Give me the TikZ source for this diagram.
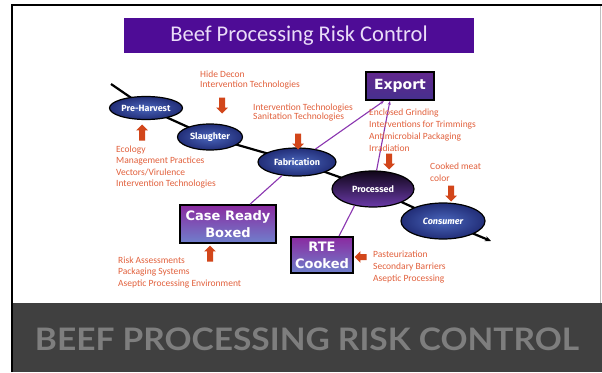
\documentclass[tikz,border=0pt]{standalone}
\usepackage{fontspec}
\setmainfont{Carlito}
\newfontfamily\ovalfont{Fira Sans}
\newfontfamily\boxfont{DejaVu Sans}
\newfontfamily\bandfont{Lato}
\usetikzlibrary{shapes.geometric}
\usetikzlibrary{shapes.arrows}
\usetikzlibrary{arrows.meta}
\usetikzlibrary{backgrounds}

\definecolor{titleviolet}{HTML}{4E0C96}
\definecolor{titletext}{HTML}{EADCF8}
\definecolor{navyin}{HTML}{4A66BC}
\definecolor{navyout}{HTML}{222E78}
\definecolor{proctop}{HTML}{100618}
\definecolor{procbot}{HTML}{6A3AA8}
\definecolor{boxtop}{HTML}{8A2AA0}
\definecolor{boxbot}{HTML}{6F80CC}
\definecolor{exptop}{HTML}{62288E}
\definecolor{expbot}{HTML}{46308E}
\definecolor{riskred}{HTML}{E2603C}
\definecolor{arrowred}{HTML}{D2461A}
\definecolor{linkpurple}{HTML}{8A35B0}
\definecolor{bandgray}{HTML}{404040}
\definecolor{bandtext}{HTML}{7E7E7E}

\tikzset{
  stage/.style={ellipse, draw=black, line width=1.2pt, inner sep=0pt, text=white,
    font=\ovalfont\bfseries\fontsize{9}{10}\selectfont, inner color=navyin, outer color=navyout},
  outlet/.style={rectangle, draw=black, line width=1.8pt, inner sep=0pt, text=white, align=center,
    font=\boxfont\bfseries\fontsize{13}{17}\selectfont, top color=boxtop, bottom color=boxbot},
  risktext/.style={anchor=north west, align=left, inner sep=0pt, text=riskred,
    font=\fontsize{9.5}{11.5}\selectfont},
  riskarrow/.style={single arrow, fill=arrowred, inner sep=2.8pt, minimum width=0pt,
    minimum height=16pt, single arrow head extend=2.8pt},
  link/.style={draw=linkpurple, line width=1.1pt},
  chain/.style={draw=black, line width=2.2pt}
}

\begin{document}
\begin{tikzpicture}[x=1pt, y=-1pt]
        	\useasboundingbox (0,0) rectangle (602,372);
        	\begin{scope}[on background layer]
        	\fill[white] (0,0) rectangle (602,372);
        	\end{scope}
        	\draw[black, line width=2pt] (12,372) -- (12,5) -- (602,5);
        	\draw[black!25, line width=0.8pt] (600.5,6) -- (600.5,303);
        	\fill[bandgray] (13,303) rectangle (602,372);
        	\node[text=bandtext, xscale=1.08, font=\bandfont\bfseries\fontsize{31}{34}\selectfont] (Z) at (307,339) {BEEF PROCESSING RISK CONTROL};
        	\node[fill=titleviolet, minimum width=350pt, minimum height=35pt, text=titletext, font=\fontsize{22.5}{26}\selectfont] (A) at (299,35.5) {Beef Processing Risk Control};
        	\node[stage, minimum width=73pt, minimum height=23pt] (B) at (146,108) {Pre-Harvest};
        	\node[stage, minimum width=65pt, minimum height=26pt] (C) at (210,137) {Slaughter};
        	\node[stage, minimum width=78pt, minimum height=28pt] (D) at (297,162) {Fabrication};
        	\node[stage, minimum width=82pt, minimum height=36pt, top color=proctop, bottom color=procbot] (E) at (373,189) {Processed};
        	\node[stage, minimum width=84pt, minimum height=36pt] (F) at (443,221) {\itshape Consumer};
        	\node[outlet, minimum width=68pt, minimum height=28pt, top color=exptop, bottom color=expbot, font=\boxfont\bfseries\fontsize{14}{17}\selectfont] (G) at (400,86) {Export};
        	\node[outlet, minimum width=96pt, minimum height=38pt] (H) at (228,224) {Case Ready\\Boxed};
        	\node[outlet, minimum width=62pt, minimum height=36pt] (I) at (322,255) {RTE\\Cooked};
        	\coordinate (S) at (111,84);
        	\coordinate (T) at (491,241);
        	\begin{scope}[on background layer]
        	\draw[chain] (S) -- (B.center) -- (C.center) -- (D.center) -- (E.center) -- (F.center);
        	\draw[chain, -{Stealth[length=6pt, width=5pt]}] (F.center) -- (T);
        	\end{scope}
        	\draw[link] (H) -- (D);
        	\draw[link, -{Stealth[length=4pt, width=3pt]}] (D) -- (G.-137);
        	\draw[link, -{Stealth[length=4pt, width=3pt]}] (E) -- (G.-124);
        	\draw[link] (E.-138) -- (I.48);
        	\node[risktext, font=\fontsize{9.5}{10}\selectfont] (K) at (200,71) {Hide Decon\\Intervention Technologies};
        	\node[risktext, font=\fontsize{9.5}{9.5}\selectfont] (L) at (253,103.5) {Intervention Technologies\\Sanitation Technologies};
        	\node[risktext] (M) at (116,145.5) {Ecology\\Management Practices\\Vectors/Virulence\\Intervention Technologies};
        	\node[risktext, font=\fontsize{9.5}{12}\selectfont] (N) at (369,108.5) {Enclosed Grinding\\Interventions for Trimmings\\Antimicrobial Packaging\\Irradiation};
        	\node[risktext, font=\fontsize{9.5}{12}\selectfont] (O) at (430,162.5) {Cooked meat\\color};
        	\node[risktext] (P) at (118,256.5) {Risk Assessments\\Packaging Systems\\Aseptic Processing Environment};
        	\node[risktext, font=\fontsize{9.5}{12}\selectfont] (Q) at (373,250.5) {Pasteurization\\Secondary Barriers\\Aseptic Processing};
        	\node[riskarrow, rotate=90] (R1) at (142,134) {};
        	\node[riskarrow, rotate=-90] (R2) at (222,104) {};
        	\node[riskarrow, rotate=-90] (R3) at (298,140) {};
        	\node[riskarrow, rotate=-90] (R4) at (389,160) {};
        	\node[riskarrow, rotate=-90] (R5) at (451,192) {};
        	\node[riskarrow, rotate=90] (R6) at (210,255) {};
        	\node[riskarrow, rotate=180, minimum height=12pt] (R7) at (362,257) {};
\end{tikzpicture}
\end{document}
